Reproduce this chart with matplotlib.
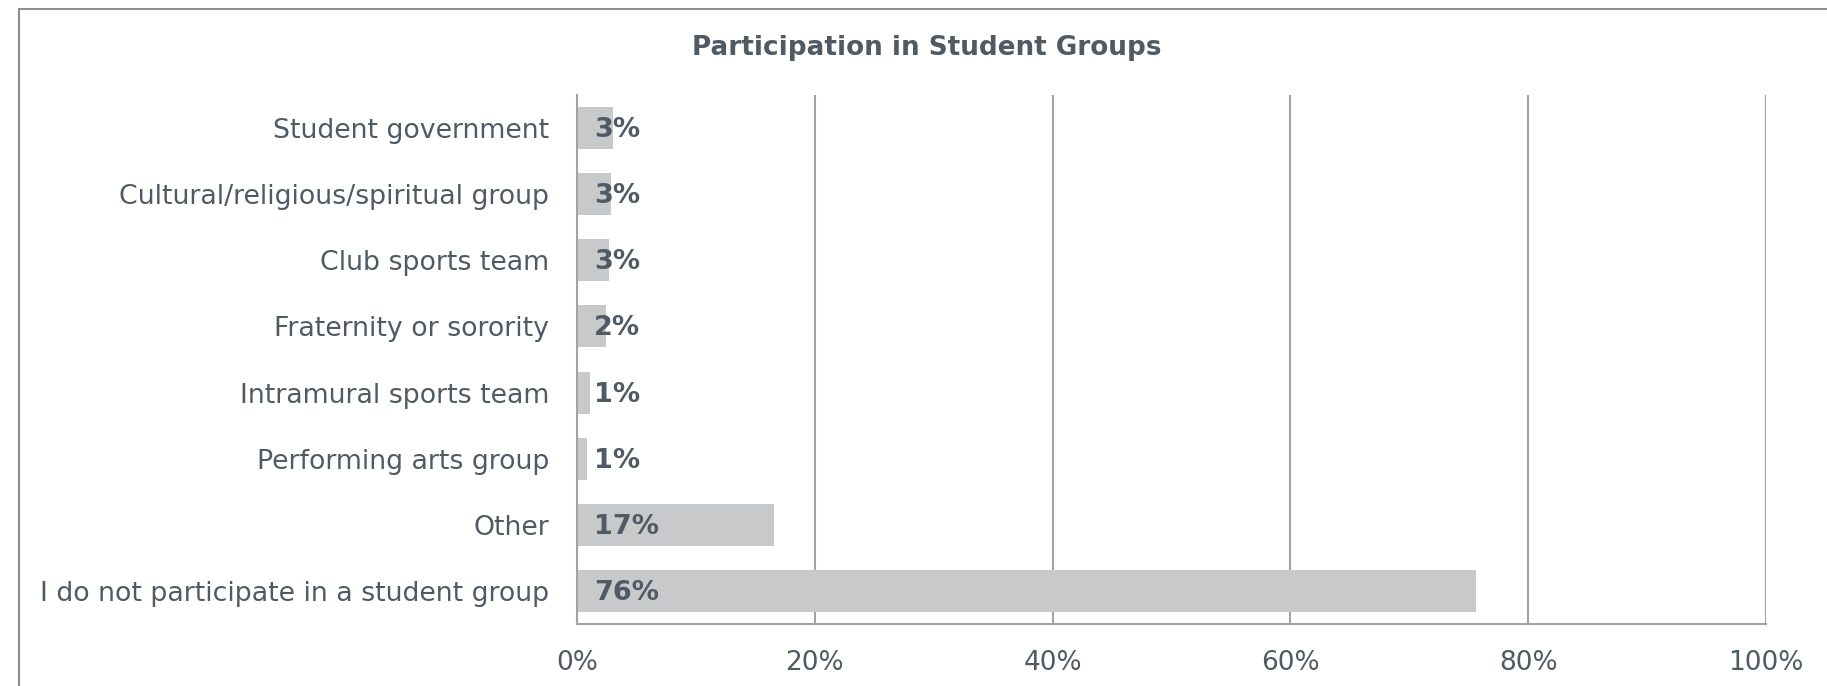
import matplotlib
matplotlib.use("Agg")
import matplotlib.pyplot as plt
from matplotlib.lines import Line2D

categories = [
    "Student government",
    "Cultural/religious/spiritual group",
    "Club sports team",
    "Fraternity or sorority",
    "Intramural sports team",
    "Performing arts group",
    "Other",
    "I do not participate in a student group",
]
values = [3.0, 2.9, 2.7, 2.4, 1.1, 0.8, 16.6, 75.6]
value_labels = ["3%", "3%", "3%", "2%", "1%", "1%", "17%", "76%"]
xticks = [0, 20, 40, 60, 80, 100]
xtick_labels = ["0%", "20%", "40%", "60%", "80%", "100%"]
title = "Participation in Student Groups"

text_color = "#505a64"
bar_color = "#c8c9cb"
grid_color = "#a3a3a6"

plt.rcParams['font.family'] = ['DejaVu Sans']

fig = plt.figure(figsize=(18.27, 6.86), dpi=100)
ax = fig.add_axes([577/1827, 1-624/686, (1766-577)/1827, (624-95)/686])

ypos = list(range(len(categories)))
ax.barh(ypos, values, height=0.634, color=bar_color, zorder=2)
ax.set_ylim(len(categories)-0.5, -0.5)
ax.set_xlim(0, 100)
ax.set_yticks(ypos)
ax.set_yticklabels(categories, fontsize=19.3, color=text_color)
ax.set_xticks(xticks)
ax.set_xticklabels(xtick_labels, fontsize=19, color=text_color)
ax.tick_params(axis='both', length=0)
ax.tick_params(axis='y', pad=20)
ax.tick_params(axis='x', pad=19)
ax.xaxis.grid(True, color=grid_color, linewidth=1.5, zorder=0)
for s in ['top', 'right']:
    ax.spines[s].set_visible(False)
ax.spines['left'].set_color(grid_color)
ax.spines['left'].set_linewidth(1.5)
ax.spines['bottom'].set_color(grid_color)
ax.spines['bottom'].set_linewidth(1.5)

for y, lab in zip(ypos, value_labels):
    ax.annotate(lab, xy=(0, y), xytext=(17, -2), textcoords='offset pixels',
                ha='left', va='center', fontsize=19.5, fontweight='bold',
                color=text_color, zorder=3)

fig.text(927/1827, 1-48/686, title, ha='center', va='center', fontsize=18.9,
         fontweight='bold', color=text_color)

# outer frame (top and left edges visible)
fig.add_artist(Line2D([19/1827, 19/1827], [0, 1-9/686], transform=fig.transFigure,
                      color="#8e8e90", linewidth=1.5))
fig.add_artist(Line2D([19/1827, 1], [1-9/686, 1-9/686], transform=fig.transFigure,
                      color="#8e8e90", linewidth=1.5))

fig.savefig("out.png", dpi=100, facecolor="white")
